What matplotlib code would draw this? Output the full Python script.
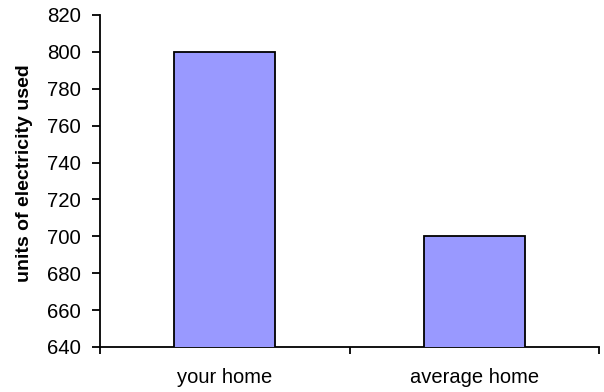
import matplotlib
matplotlib.use("Agg")
import matplotlib.pyplot as plt
import numpy as np

categories = ["your home", "average home"]
values = [800, 700]
y_ticks = [640, 660, 680, 700, 720, 740, 760, 780, 800, 820]

plt.rcParams["font.family"] = ["Liberation Sans", "DejaVu Sans"]

fig = plt.figure(figsize=(6.04, 3.92), dpi=100)
ax = fig.add_axes([100 / 604, 45 / 392, 499 / 604, 332 / 392])

x = np.arange(len(categories))
ax.bar(x, values, width=0.405, color="#9999FF", edgecolor="black",
       linewidth=1.3, zorder=3)

ax.set_xlim(-0.5, len(categories) - 0.5)
ax.set_ylim(y_ticks[0], y_ticks[-1])
ax.set_yticks(y_ticks)

# category labels at bar centres, tick marks on category boundaries
ax.set_xticks(x)
ax.set_xticklabels(categories)
ax.set_xticks(np.arange(len(categories) + 1) - 0.5, minor=True)
ax.tick_params(axis="x", which="major", length=0, pad=15, labelsize=14.5)
ax.tick_params(axis="x", which="minor", length=5, width=1.3, direction="out")
ax.tick_params(axis="y", length=6, width=1.3, direction="out", pad=8,
               labelsize=14.7)

for side in ("top", "right"):
    ax.spines[side].set_visible(False)
for side in ("left", "bottom"):
    ax.spines[side].set_linewidth(1.3)

ax.set_ylabel("units of electricity used", fontsize=14, fontweight="bold")
ax.yaxis.set_label_coords(-67 / 499, 0.5 + 7.5 / 332)

fig.savefig("out.png", dpi=100)
